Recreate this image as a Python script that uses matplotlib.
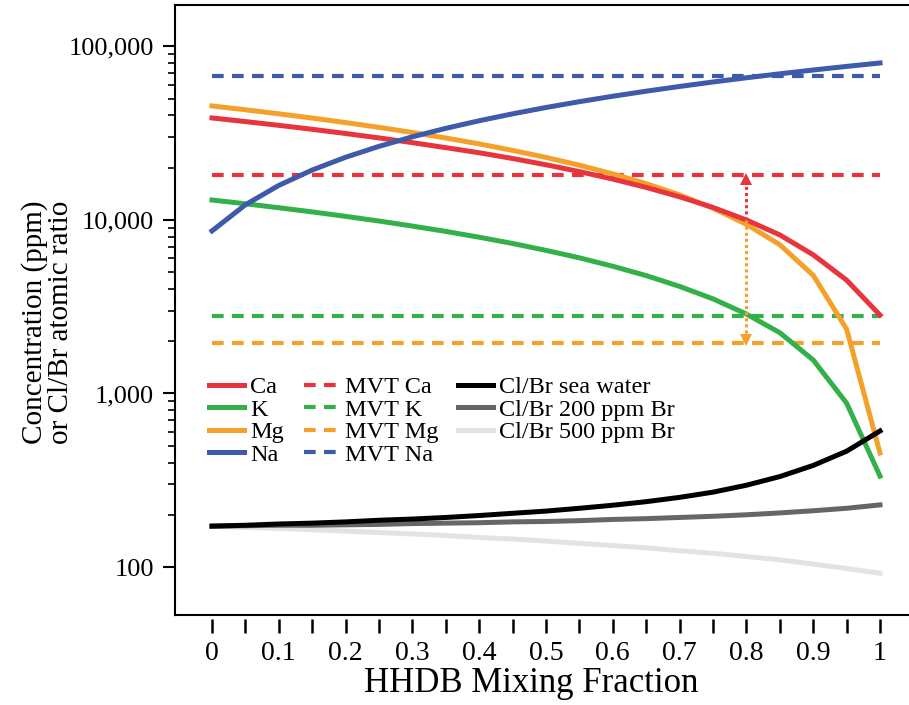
import matplotlib
matplotlib.use('Agg')
import matplotlib.pyplot as plt
from matplotlib.ticker import FixedLocator, NullFormatter
import numpy as np

plt.rcParams['font.family'] = ['Liberation Serif', 'DejaVu Serif']

# ─── Data ────────────────────────────────────────────────────────────────────
frac = [0.0, 0.05, 0.1, 0.15, 0.2, 0.25, 0.3, 0.35, 0.4, 0.45, 0.5,
        0.55, 0.6, 0.65, 0.7, 0.75, 0.8, 0.85, 0.9, 0.95, 1.0]

ca = [38700, 36900, 35100, 33300, 31500, 29700, 27900, 26100, 24400, 22600, 20800,
      19000, 17200, 15400, 13600, 11800, 10000, 8200, 6300, 4500, 2830]
k = [13030, 12400, 11760, 11130, 10490, 9860, 9220, 8590, 7950, 7320, 6680,
     6050, 5410, 4780, 4140, 3510, 2870, 2240, 1560, 880, 334]
mg = [45400, 43150, 40900, 38660, 36410, 34160, 31920, 29670, 27420, 25170, 22930,
      20680, 18430, 16190, 13940, 11690, 9440, 7200, 4800, 2350, 454]
na = [8650, 12230, 15820, 19400, 22980, 26560, 30150, 33730, 37310, 40890, 44480,
      48060, 51640, 55220, 58810, 62390, 65970, 69550, 73140, 76720, 80300]

clbr_sea = [172, 174, 177, 179, 182, 186, 189, 193, 198, 204, 210,
            218, 227, 238, 252, 270, 296, 332, 385, 465, 608]
clbr_200 = [172, 173, 174, 174, 175, 176, 178, 179, 180, 182, 183,
            185, 188, 190, 193, 196, 200, 205, 211, 218, 228]
clbr_500 = [172, 169, 167, 164, 161, 158, 155, 152, 148, 145, 141,
            137, 133, 129, 124, 120, 115, 110, 104, 98, 92]

mvt_ca, mvt_k, mvt_mg, mvt_na = 18150, 2800, 1955, 67600
arrow_x = 0.8

RED = '#E8343C'
GREEN = '#34B04A'
ORANGE = '#F5A02A'
BLUE = '#3E5AAA'

# ─── Figure ──────────────────────────────────────────────────────────────────
fig = plt.figure(figsize=(9.09, 7.05), dpi=100)
ax = fig.add_axes([175/909, 90/705, 734/909, 610/705])
ax.set_yscale('log')
ax.set_xlim(-0.0554, 1.0434)
ax.set_ylim(52.9, 173300)

LW = 3.6
DASH = (0, (2.8, 2.0))

h_ca, = ax.plot(frac, ca, color=RED, lw=LW, label='Ca', zorder=4)
h_k, = ax.plot(frac, k, color=GREEN, lw=LW, label='K', zorder=4)
h_mg, = ax.plot(frac, mg, color=ORANGE, lw=LW, label='Mg', zorder=3)
h_na, = ax.plot(frac, na, color=BLUE, lw=LW, label='Na', zorder=4)

d_ca = ax.hlines(mvt_ca, 0, 1, color=RED, lw=3.0, linestyles=DASH, label='MVT Ca')
d_k = ax.hlines(mvt_k, 0, 1, color=GREEN, lw=3.0, linestyles=DASH, label='MVT K')
d_mg = ax.hlines(mvt_mg, 0, 1, color=ORANGE, lw=3.0, linestyles=DASH, label='MVT Mg')
d_na = ax.hlines(mvt_na, 0, 1, color=BLUE, lw=3.0, linestyles=DASH, label='MVT Na')

h_sea, = ax.plot(frac, clbr_sea, color='black', lw=LW, label='Cl/Br sea water', zorder=4)
h_200, = ax.plot(frac, clbr_200, color='#666666', lw=LW, label='Cl/Br 200 ppm Br', zorder=3)
h_500, = ax.plot(frac, clbr_500, color='#E3E3E3', lw=LW, label='Cl/Br 500 ppm Br', zorder=2)

# dotted arrows from the Ca curve to the MVT Ca and MVT Mg levels
ca_at = ca[frac.index(arrow_x)]
ax.plot([arrow_x, arrow_x], [ca_at, mvt_ca * 0.93], color=RED, lw=2.2, ls=(0, (1, 1)), zorder=5)
ax.plot([arrow_x], [mvt_ca * 0.955], marker='^', ms=8, color=RED, mew=0, zorder=5)
ax.plot([arrow_x, arrow_x], [ca_at, mvt_mg * 1.07], color=ORANGE, lw=2.2, ls=(0, (1, 1)), zorder=5)
ax.plot([arrow_x], [mvt_mg * 1.045], marker='v', ms=8, color=ORANGE, mew=0, zorder=5)

# ─── Axes styling ────────────────────────────────────────────────────────────
ax.spines['right'].set_visible(False)
ax.spines['left'].set_linewidth(1.5)
ax.spines['top'].set_linewidth(1.5)
ax.spines['bottom'].set_position(('outward', 3))
ax.spines['bottom'].set_visible(False)
ax.plot([0, 1], [0, 0], transform=ax.transAxes, color='black', lw=1.5,
        clip_on=False, zorder=6)

ax.yaxis.set_major_locator(FixedLocator([100, 1000, 10000, 100000]))
ax.set_yticklabels(['100', '1,000', '10,000', '100,000'])
minor_y = [m * 10**e for e in (2, 3, 4) for m in range(2, 10)]
ax.yaxis.set_minor_locator(FixedLocator(minor_y))
ax.yaxis.set_minor_formatter(NullFormatter())
ax.tick_params(axis='y', which='major', direction='out', length=9, width=1.5,
               labelsize=19, pad=6)
ax.tick_params(axis='y', which='minor', direction='out', length=5, width=1.2)

xt = [0, 0.1, 0.2, 0.3, 0.4, 0.5, 0.6, 0.7, 0.8, 0.9, 1]
ax.set_xticks(xt)
ax.set_xticklabels(['0', '0.1', '0.2', '0.3', '0.4', '0.5', '0.6', '0.7', '0.8', '0.9', '1'])
ax.set_xticks(np.arange(0.05, 1.0, 0.1), minor=True)
ax.tick_params(axis='x', which='both', direction='out', length=10, width=1.8,
               labelsize=20, pad=6)

ax.set_xlabel('HHDB Mixing Fraction', fontsize=25)
ax.xaxis.set_label_coords(0.485, -0.085)
ax.set_ylabel('Concentration (ppm)\nor Cl/Br atomic ratio', fontsize=21, linespacing=1.0)
ax.yaxis.set_label_coords(-0.137, 0.48)

handles = [h_ca, h_k, h_mg, h_na, d_ca, d_k, d_mg, d_na, h_sea, h_200, h_500]
leg = fig.legend(handles=handles, ncol=3, loc='upper left',
                 bbox_to_anchor=(209/909, 1 - 376/705), frameon=False,
                 fontsize=17.5, handlelength=1.45, handletextpad=0.25,
                 columnspacing=0.8, labelspacing=0.02, borderpad=0,
                 borderaxespad=0)

fig.savefig('out.png', dpi=100, facecolor='white')
